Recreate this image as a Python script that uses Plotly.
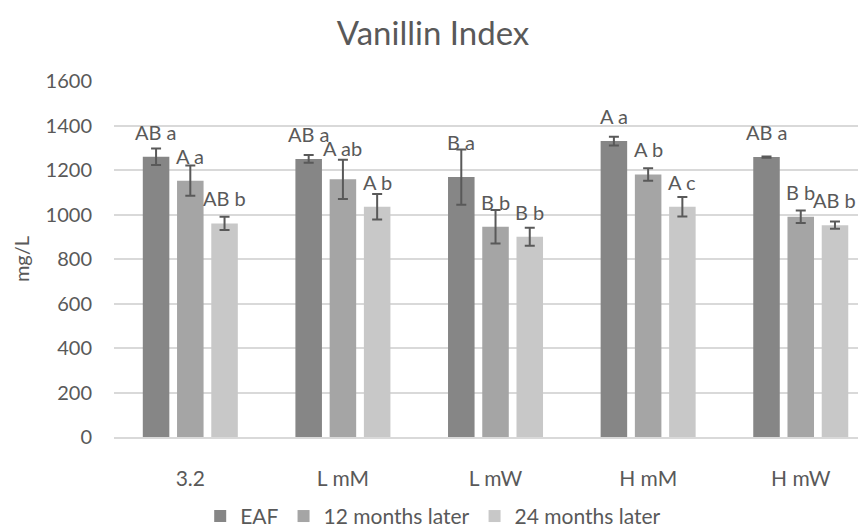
import plotly.graph_objects as go

categories = ["3.2", "L mM", "L mW", "H mM", "H mW"]
series_names = ["EAF", "12 months later", "24 months later"]

eaf_values = [1260, 1250, 1168, 1330, 1258]
eaf_errors = [37, 17, 124, 20, 3]
m12_values = [1152, 1158, 945, 1180, 990]
m12_errors = [68, 88, 75, 28, 28]
m24_values = [960, 1035, 900, 1035, 952]
m24_errors = [30, 57, 40, 44, 16]

eaf_labels = ["AB a", "AB a", "B a", "A a", "AB a"]
m12_labels = ["A a", "A ab", "B b", "A b", "B b"]
m24_labels = ["AB b", "A b", "B b", "A c", "AB b"]

y_ticks = [0, 200, 400, 600, 800, 1000, 1200, 1400, 1600]

colors = ["#868686", "#a5a5a5", "#c8c8c8"]
text_color = "#595959"
font_family = "Lato, 'Open Sans', sans-serif"

values = [eaf_values, m12_values, m24_values]
errors = [eaf_errors, m12_errors, m24_errors]
labels = [eaf_labels, m12_labels, m24_labels]

fig = go.Figure()
for i in range(3):
    fig.add_trace(go.Bar(
        x=categories, y=values[i], name=series_names[i],
        marker=dict(color=colors[i], line=dict(width=0)),
        error_y=dict(type="data", array=errors[i], visible=True,
                     color="#595959", thickness=2, width=5),
    ))

# data labels above bars (Excel "outside end" placement)
pitch = 34.2
nudge = {(1, 1): 6, (0, 2): 10}
for i in range(3):
    for j in range(len(categories)):
        fig.add_annotation(
            x=j, y=values[i][j], text=labels[i][j], showarrow=False,
            xref="x", yref="y", xanchor="center", yanchor="middle",
            xshift=(i - 1) * pitch, yshift=25 + nudge.get((i, j), 0),
            font=dict(family=font_family, size=20, color=text_color),
        )

fig.update_layout(
    width=866, height=532,
    margin=dict(l=106, r=0, t=73, b=102.5),
    paper_bgcolor="white", plot_bgcolor="white",
    barmode="group", bargap=0.327, bargroupgap=0.225,
    title=dict(text="Vanillin Index", x=0.4908, xref="container", xanchor="center",
               y=1 - 25 / 532, yref="container", yanchor="middle",
               font=dict(family=font_family, size=33, color=text_color)),
    font=dict(family=font_family, color=text_color),
    showlegend=True,
    legend=dict(orientation="h", x=0.42, xanchor="center", y=-0.223, yanchor="middle",
                font=dict(family=font_family, size=21, color=text_color),
                itemwidth=30, traceorder="normal"),
    xaxis=dict(type="category", range=[-0.5, 4.48], showgrid=False,
               showline=True, linecolor="#d9d9d9", linewidth=1.5,
               ticks="outside", ticklen=22, tickcolor="rgba(0,0,0,0)",
               tickfont=dict(family=font_family, size=21, color=text_color)),
    yaxis=dict(range=[0, 1600], tickvals=y_ticks, showgrid=True,
               gridcolor="#d9d9d9", gridwidth=1.5, zeroline=False,
               ticks="outside", ticklen=17, tickcolor="rgba(0,0,0,0)",
               tickfont=dict(family=font_family, size=20, color=text_color),
               title=dict(text="mg/L", standoff=10,
                          font=dict(family=font_family, size=20, color=text_color))),
)

fig.write_html("out.html")
